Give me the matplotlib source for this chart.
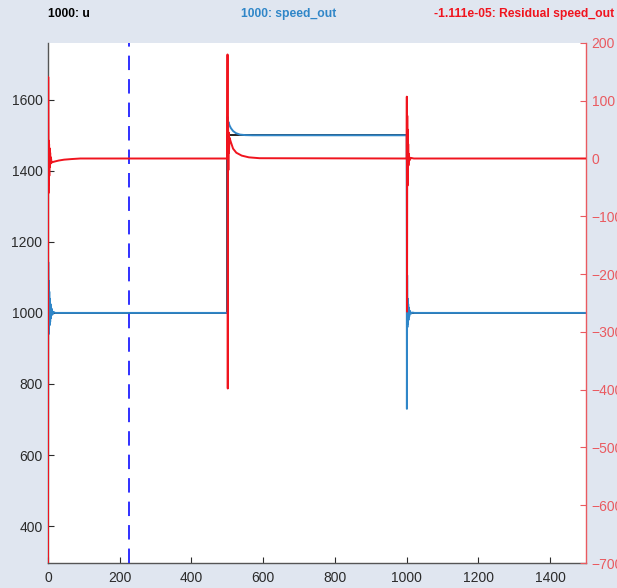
import matplotlib
matplotlib.use("Agg")
import matplotlib.pyplot as plt

plt.rcParams['font.family'] = ['Liberation Sans', 'DejaVu Sans']

# Reference input u (step command)
u_t = [0, 500, 500, 1000, 1000, 1500]
u_v = [1000, 1000, 1500, 1500, 1000, 1000]

# Measured speed_out
speed_t = [0, 0.7, 1.4, 2.1, 2.8, 3.5, 4.2, 5, 6, 7, 8, 10, 12, 15, 20,
           500, 500.6, 501.5, 503, 506, 510, 516, 524, 535, 550, 570,
           1000, 1000.6, 1001.3, 1002, 1002.7, 1003.4, 1004.2, 1005, 1006,
           1007, 1009, 1012, 1016, 1022, 1500]
speed_v = [360, 1143, 940, 1090, 950, 1060, 965, 1040, 975, 1025, 985, 1012, 995, 1003, 1000,
           1000, 1552, 1532, 1538, 1528, 1520, 1512, 1506, 1502, 1500.5, 1500,
           1500, 730, 1106, 960, 1040, 970, 1025, 980, 1015,
           990, 1006, 998, 1001, 1000, 1000]

# Residual speed_out (right axis)
resid_t = [0, 0.6, 1.2, 1.8, 2.4, 3.0, 3.6, 4.2, 5, 6, 7, 8, 10, 14, 20, 30, 45, 65, 90,
           500, 500.5, 501.2, 502, 502.8, 503.6, 504.5, 506, 510, 516, 525, 540, 560, 590,
           1000, 1000.4, 1001.0, 1001.6, 1002.2, 1002.8, 1003.5, 1004.2, 1005, 1006, 1008,
           1012, 1020, 1500]
resid_v = [-700, 141, -60, 31, -45, 25, -30, 18, -15, 10, -9, 2, -7, -6, -5, -3.5, -2, -1, 0,
           0, 180, -398, 60, -20, 45, 10, 36, 28, 17, 10, 5, 2, 0.5,
           0, 107, -265, 74, -47, 50, -30, 25, -12, 8, -3,
           1, 0, 0]

cursor_t = 225

x_ticks = [0, 200, 400, 600, 800, 1000, 1200, 1400]
left_ticks = [400, 600, 800, 1000, 1200, 1400, 1600]
right_ticks = [-700, -600, -500, -400, -300, -200, -100, 0, 100, 200]

bg = '#e0e6f0'
blue = '#2f86c8'
red = '#f0141e'
red_axis = '#ea5a60'

fig = plt.figure(figsize=(6.17, 5.88), dpi=100, facecolor=bg)
ax = fig.add_axes([0.0778, 0.0425, 0.8720, 0.8845])
ax.set_facecolor('white')

ax.plot(u_t, u_v, color='black', lw=1.2, zorder=2)
ax.plot(speed_t, speed_v, color=blue, lw=1.4, zorder=3)
ax.axvline(cursor_t, color='#2020ff', lw=1.3, ls=(0, (8, 5)), zorder=4)

ax.set_xlim(0, 1500)
ax.set_ylim(296, 1760)
ax.set_xticks(x_ticks)
ax.set_yticks(left_ticks)
ax.tick_params(direction='in', length=4, width=0.8, colors='#2b2b2b',
               labelsize=10, pad=4)
ax.tick_params(axis='x', pad=6)
for s in ['top', 'right']:
    ax.spines[s].set_visible(False)
ax.spines['left'].set_color('#555555')
ax.spines['bottom'].set_color('#555555')
ax.spines['left'].set_linewidth(1.0)
ax.spines['bottom'].set_linewidth(1.0)

ax2 = ax.twinx()
ax2.plot(resid_t, resid_v, color=red, lw=1.4, zorder=3)
ax2.set_ylim(-700, 200)
ax2.set_yticks(right_ticks)
ax2.tick_params(direction='in', length=4, width=0.8, colors=red_axis,
                labelsize=10, pad=4)
for s in ['top', 'left', 'bottom']:
    ax2.spines[s].set_visible(False)
ax2.spines['right'].set_color(red_axis)
ax2.spines['right'].set_linewidth(1.0)

fig.text(48 / 617, 1 - 14 / 588, '1000: u', color='black', fontsize=8.7,
         fontweight='bold', ha='left', va='center')
fig.text(289 / 617, 1 - 14 / 588, '1000: speed_out', color=blue, fontsize=8.7,
         fontweight='bold', ha='center', va='center')
fig.text(614 / 617, 1 - 14 / 588, '-1.111e-05: Residual speed_out', color=red,
         fontsize=8.7, fontweight='bold', ha='right', va='center')

fig.savefig('out.png', dpi=100, facecolor=bg)
